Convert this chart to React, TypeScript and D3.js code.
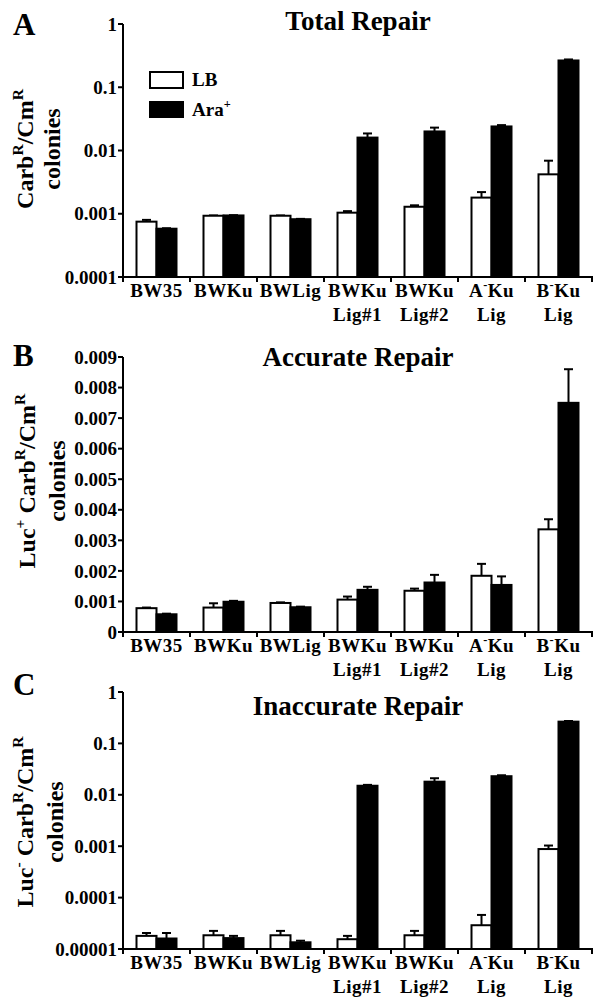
import React from "react";
import * as d3 from "d3";

// ---------- DATA ----------
const categoryLabels: string[][] = [
  ["BW35"],
  ["BWKu"],
  ["BWLig"],
  ["BWKu", "Lig#1"],
  ["BWKu", "Lig#2"],
  ["A^{-}Ku", "Lig"],
  ["B^{-}Ku", "Lig"],
];
const seriesNames = ["LB", "Ara^{+}"];

// Panel A: Total Repair (log)
const totalLB = [0.00075, 0.00093, 0.00093, 0.00104, 0.00129, 0.0018, 0.0042];
const totalLBErr = [0.00005, 0.00001, 0.00001, 0.00006, 0.00007, 0.0004, 0.0027];
const totalAra = [0.00058, 0.00094, 0.00082, 0.016, 0.02, 0.024, 0.265];
const totalAraErr = [0.00001, 0.00001, 0.00001, 0.0026, 0.003, 0.0012, 0.01];
const totalTicks = [0.0001, 0.001, 0.01, 0.1, 1];
const totalTickLabels = ["0.0001", "0.001", "0.01", "0.1", "1"];

// Panel B: Accurate Repair (linear)
const accLB = [0.00078, 0.0008, 0.00095, 0.00106, 0.00135, 0.00184, 0.00336];
const accLBErr = [0.00002, 0.00014, 0.00002, 0.0001, 0.00007, 0.00039, 0.00033];
const accAra = [0.00058, 0.00099, 0.00081, 0.00138, 0.00162, 0.00154, 0.0075];
const accAraErr = [0.00002, 0.00003, 0.00002, 0.0001, 0.00025, 0.00028, 0.0011];
const accTicks = [0, 0.001, 0.002, 0.003, 0.004, 0.005, 0.006, 0.007, 0.008, 0.009];
const accTickLabels = ["0", "0.001", "0.002", "0.003", "0.004", "0.005", "0.006", "0.007", "0.008", "0.009"];

// Panel C: Inaccurate Repair (log)
const inaccLB = [0.000018, 0.0000185, 0.0000185, 0.0000155, 0.0000185, 0.000029, 0.00088];
const inaccLBErr = [0.0000025, 0.000004, 0.000004, 0.0000025, 0.000004, 0.000017, 0.00015];
const inaccAra = [0.000016, 0.0000163, 0.0000135, 0.015, 0.018, 0.023, 0.265];
const inaccAraErr = [0.0000045, 0.0000017, 0.000001, 0.0006, 0.003, 0.001, 0.008];
const inaccTicks = [0.00001, 0.0001, 0.001, 0.01, 0.1, 1];
const inaccTickLabels = ["0.00001", "0.0001", "0.001", "0.01", "0.1", "1"];

// ---------- RENDER HELPERS ----------
const FONT = "'Liberation Serif', 'Times New Roman', Times, serif";

function Rich({ s, fs }: { s: string; fs: number }) {
  const parts: { t: string; sup: boolean }[] = [];
  const re = /\^\{([^}]*)\}/g;
  let last = 0;
  let m: RegExpExecArray | null;
  while ((m = re.exec(s)) !== null) {
    if (m.index > last) parts.push({ t: s.slice(last, m.index), sup: false });
    parts.push({ t: m[1], sup: true });
    last = m.index + m[0].length;
  }
  if (last < s.length) parts.push({ t: s.slice(last), sup: false });
  const shift = fs * 0.42;
  let cur = 0;
  return (
    <>
      {parts.map((p, i) => {
        const target = p.sup ? -shift : 0;
        const dy = target - cur;
        cur = target;
        return (
          <tspan key={i} dy={dy} fontSize={p.sup ? fs * 0.65 : fs}>
            {p.t}
          </tspan>
        );
      })}
    </>
  );
}

type PanelProps = {
  letter: string;
  letterY: number;
  title: string;
  titleY: number;
  yTitle: string[];
  yTitleX: number[];
  yTitleCY: number;
  top: number;
  bottom: number;
  log: boolean;
  domain: [number, number];
  ticks: number[];
  tickLabels: string[];
  lb: number[];
  lbErr: number[];
  ara: number[];
  araErr: number[];
  legend?: boolean;
};

const X0 = 123;
const X1 = 592;

function Panel(p: PanelProps) {
  const x = d3
    .scaleBand<number>()
    .domain(d3.range(categoryLabels.length))
    .range([X0, X1])
    .padding(0);
  const y = p.log
    ? d3.scaleLog().domain(p.domain).range([p.bottom, p.top])
    : d3.scaleLinear().domain(p.domain).range([p.bottom, p.top]);
  const bw = 20;
  const base = p.bottom;
  const series = [
    { vals: p.lb, errs: p.lbErr, fill: "#fff", off: -bw },
    { vals: p.ara, errs: p.araErr, fill: "#000", off: 0 },
  ];
  const boundaries = d3.range(categoryLabels.length + 1).map((i) => X0 + i * x.bandwidth());
  return (
    <g>
      <text x={13} y={p.letterY} fontSize={31} fontWeight="bold" fontFamily={FONT}>
        {p.letter}
      </text>
      <text x={358} y={p.titleY} fontSize={27} fontWeight="bold" fontFamily={FONT} textAnchor="middle">
        {p.title}
      </text>
      {p.yTitle.map((line, i) => (
        <text
          key={i}
          transform={`translate(${p.yTitleX[i]},${p.yTitleCY}) rotate(-90)`}
          fontSize={24}
          fontWeight="bold"
          fontFamily={FONT}
          textAnchor="middle"
        >
          <Rich s={line} fs={24} />
        </text>
      ))}
      {/* bars */}
      {series.map((s, si) =>
        s.vals.map((v, i) => {
          const cx = (x(i) as number) + x.bandwidth() / 2;
          const yt = y(v);
          const ye = y(v + s.errs[i]);
          return (
            <g key={`${si}-${i}`}>
              <line x1={cx + s.off + bw / 2} x2={cx + s.off + bw / 2} y1={yt} y2={ye} stroke="#000" strokeWidth={2} />
              <line x1={cx + s.off + bw / 2 - 4.5} x2={cx + s.off + bw / 2 + 4.5} y1={ye} y2={ye} stroke="#000" strokeWidth={2} />
              <rect x={cx + s.off} y={yt} width={bw} height={base - yt} fill={s.fill} stroke="#000" strokeWidth={2} />
            </g>
          );
        })
      )}
      {/* y axis */}
      <line x1={X0} x2={X0} y1={p.top} y2={p.bottom + 1} stroke="#000" strokeWidth={2} />
      {p.ticks.map((t, i) => (
        <g key={i}>
          <line x1={X0 - 5} x2={X0} y1={y(t)} y2={y(t)} stroke="#000" strokeWidth={2} />
          <text
            x={117}
            y={y(t)}
            dy="0.35em"
            fontSize={19}
            fontWeight="bold"
            fontFamily={FONT}
            textAnchor="end"
          >
            {p.tickLabels[i]}
          </text>
        </g>
      ))}
      {/* x axis */}
      <line x1={X0 - 1} x2={X1 + 1} y1={p.bottom} y2={p.bottom} stroke="#000" strokeWidth={2} />
      {boundaries.map((b, i) => (
        <line key={i} x1={b} x2={b} y1={p.bottom} y2={p.bottom + 5} stroke="#000" strokeWidth={2} />
      ))}
      {categoryLabels.map((lines, i) => {
        const cx = (x(i) as number) + x.bandwidth() / 2;
        return lines.map((ln, li) => (
          <text
            key={`${i}-${li}`}
            x={cx}
            y={p.bottom + 20 + li * 24}
            fontSize={19}
            fontWeight="bold"
            fontFamily={FONT}
            textAnchor="middle"
            letterSpacing={0.5}
          >
            <Rich s={ln} fs={19} />
          </text>
        ));
      })}
      {p.legend && (
        <g>
          <rect x={150} y={72} width={33} height={16} fill="#fff" stroke="#000" strokeWidth={2} />
          <rect x={150} y={102} width={33} height={15} fill="#000" stroke="#000" strokeWidth={2} />
          <text x={192} y={86} fontSize={19} fontWeight="bold" fontFamily={FONT}>
            <Rich s={seriesNames[0]} fs={19} />
          </text>
          <text x={192} y={116} fontSize={19} fontWeight="bold" fontFamily={FONT}>
            <Rich s={seriesNames[1]} fs={19} />
          </text>
        </g>
      )}
    </g>
  );
}

export default function App() {
  return (
    <svg
      width={603}
      height={1004}
      viewBox="0 0 603 1004"
      style={{ position: "absolute", left: 0, top: 0, background: "#fff" }}
    >
      <rect x={0} y={0} width={603} height={1004} fill="#fff" />
      <Panel
        letter="A"
        letterY={35}
        title="Total Repair"
        titleY={30}
        yTitle={["Carb^{R}/Cm^{R}", "colonies"]}
        yTitleX={[33, 60]}
        yTitleCY={149}
        top={24}
        bottom={277}
        log={true}
        domain={[0.0001, 1]}
        ticks={totalTicks}
        tickLabels={totalTickLabels}
        lb={totalLB}
        lbErr={totalLBErr}
        ara={totalAra}
        araErr={totalAraErr}
        legend={true}
      />
      <Panel
        letter="B"
        letterY={366}
        title="Accurate Repair"
        titleY={366}
        yTitle={["Luc^{+} Carb^{R}/Cm^{R}", "colonies"]}
        yTitleX={[35, 65]}
        yTitleCY={481}
        top={357}
        bottom={632}
        log={false}
        domain={[0, 0.009]}
        ticks={accTicks}
        tickLabels={accTickLabels}
        lb={accLB}
        lbErr={accLBErr}
        ara={accAra}
        araErr={accAraErr}
      />
      <Panel
        letter="C"
        letterY={695}
        title="Inaccurate Repair"
        titleY={715}
        yTitle={["Luc^{-} Carb^{R}/Cm^{R}", "colonies"]}
        yTitleX={[33, 63]}
        yTitleCY={822}
        top={692}
        bottom={949}
        log={true}
        domain={[0.00001, 1]}
        ticks={inaccTicks}
        tickLabels={inaccTickLabels}
        lb={inaccLB}
        lbErr={inaccLBErr}
        ara={inaccAra}
        araErr={inaccAraErr}
      />
    </svg>
  );
}
